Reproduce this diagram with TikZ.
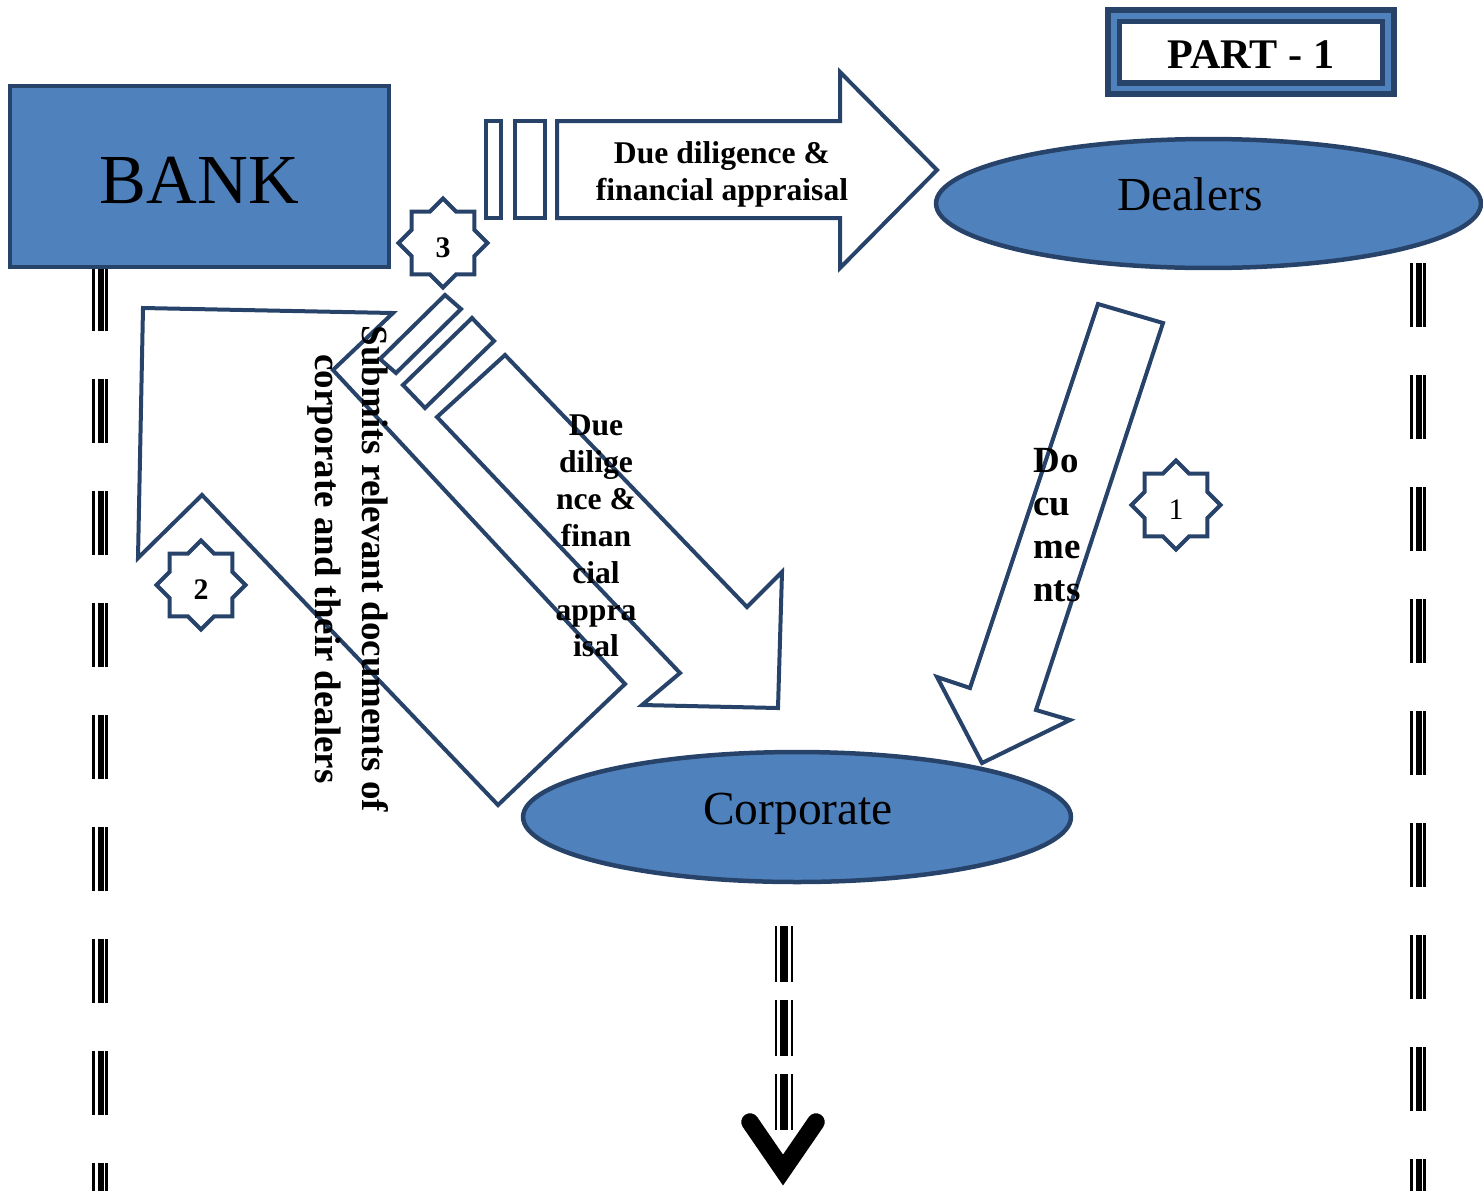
\documentclass[tikz,border=0pt]{standalone}
\usepackage{fontspec}
\setmainfont{Liberation Serif}
\usetikzlibrary{shapes.geometric}
\definecolor{fillblue}{HTML}{4F81BD}
\definecolor{edgeblue}{HTML}{28436A}
\begin{document}
\begin{tikzpicture}[x=0.02cm, y=-0.02cm,
  blockarrow/.style={draw=edgeblue, fill=white, line width=0.08cm, line join=miter},
  bluebox/.style={draw=edgeblue, fill=fillblue, line width=0.09cm, inner sep=0pt},
  blueoval/.style={bluebox, ellipse},
  ovaltext/.style={inner sep=0pt, font=\fontsize{27}{32}\selectfont},
  starbadge/.style={star, star points=8, star point ratio=1.307, minimum size=1.78cm, inner sep=0pt,
    draw=edgeblue, fill=white, line width=0.08cm, text height=16.5pt, text depth=0pt,
    font=\fontsize{17}{20}\selectfont},
  partbox/.style={draw=edgeblue, double=fillblue, double distance=0.12cm, line width=0.11cm, fill=white,
    minimum width=5.5cm, minimum height=1.46cm, inner sep=0pt, text height=19pt, text depth=0pt,
    font=\fontsize{24}{28}\selectfont\bfseries},
  thinrail/.style={line width=0.06cm},
  thickrail/.style={line width=0.12cm},
  siderail/.style={dash pattern=on 1.28cm off 0.96cm},
  midrail/.style={dash pattern=on 1.12cm off 0.36cm},
  boldtext/.style={font=\fontsize{18}{21}\selectfont\bfseries, align=center, inner sep=0pt},
]
\useasboundingbox (0,0) rectangle (1483,1191);

% ---------- lifelines ----------
\coordinate (LT) at (100.5,267);
\coordinate (LB) at (100.5,1191);
\coordinate (RT) at (1419,263);
\coordinate (RB) at (1419,1191);
\coordinate (MT) at (784,926);
\coordinate (MB) at (784,1131);
\foreach \dx/\st in {-7/thinrail, 0/thickrail, 6/thinrail}
  \draw[\st, siderail] ([xshift=\dx*0.02cm]LT) -- ([xshift=\dx*0.02cm]LB);
\foreach \dx/\st in {-7.5/thinrail, 0/thickrail, 5.5/thinrail}
  \draw[\st, siderail] ([xshift=\dx*0.02cm]RT) -- ([xshift=\dx*0.02cm]RB);
\foreach \dx/\w in {-8/0.05, 0/0.16, 8/0.05}
  \draw[line width=\w cm, midrail] ([xshift=\dx*0.02cm]MT) -- ([xshift=\dx*0.02cm]MB);
\coordinate (VL) at (750,1122);
\coordinate (VT) at (783,1170);
\coordinate (VR) at (816,1122);
\draw[line width=0.35cm, line cap=round, line join=miter] (VL) -- (VT) -- (VR);

% ---------- main boxes ----------
\node[bluebox, rectangle, minimum width=7.58cm, minimum height=3.62cm, text height=31pt, text depth=0pt,
  font=\fontsize{40}{48}\selectfont] (bank) at (199.5,176.5) {BANK};
\node[blueoval, minimum width=10.9cm, minimum height=2.58cm] (dealers) at (1208.5,203.5) {};
\node[ovaltext] (dealerstext) at (1190,194) {Dealers};
\node[blueoval, minimum width=10.96cm, minimum height=2.6cm] (corporate) at (797,817) {};
\node[ovaltext] (corporatetext) at (798,814) {Corporate};
\node[partbox] (part) at (1251,52) {PART - 1};

% ---------- block arrows ----------
% bank -> dealers (striped right arrow)
\draw[blockarrow] (486,121) rectangle (501,218);
\draw[blockarrow] (515,121) rectangle (545,218);
\draw[blockarrow] (557,121) -- (840,121) -- (840,72) -- (937,170) -- (840,268) -- (840,218) -- (557,218) -- cycle;

% corporate -> bank (bent arrow pointing up-left)
\draw[blockarrow] (143,308) -- (393,313) -- (333,370) -- (625,684) -- (498,805) -- (202,495) -- (138,558) -- cycle;

% bank -> corporate (striped diagonal arrow)
\draw[blockarrow] (445,295) -- (461,309) -- (396,373) -- (380,359) -- cycle;
\draw[blockarrow] (472,318) -- (494,341) -- (425,408) -- (403,385) -- cycle;
\draw[blockarrow] (505,355) -- (747,607) -- (782,572) -- (778,708) -- (642,705) -- (680,673) -- (437,417) -- cycle;

% dealers -> corporate
\draw[blockarrow] (1098,304) -- (1163,323) -- (1036,710) -- (1070,720) -- (982,763) -- (937,677) -- (970,688) -- cycle;

% ---------- step badges ----------
\node[starbadge, font=\fontsize{17}{20}\selectfont\bfseries] (s3) at (443,243) {3};
\node[starbadge, font=\fontsize{17}{20}\selectfont\bfseries] (s2) at (201,585) {2};
\node[starbadge] (s1) at (1176,505) {1};

% ---------- labels ----------
\node[boldtext] (lab3) at (722,174) {Due diligence \&\\financial appraisal};
\node[boldtext] (lab3b) at (596,536) {Due\\dilige\\nce \&\\finan\\cial\\appra\\isal};
\node[font=\fontsize{21}{24.4}\selectfont\bfseries, align=left, anchor=west, inner sep=0pt] (lab1) at (1033,525) {Do\\cu\\me\\nts};
\node[font=\fontsize{21}{26.7}\selectfont\bfseries, align=center, rotate=-90, inner sep=0pt] (lab2) at (348,569)
  {Submits relevant documents of\\corporate and their dealers};
\end{tikzpicture}
\end{document}
